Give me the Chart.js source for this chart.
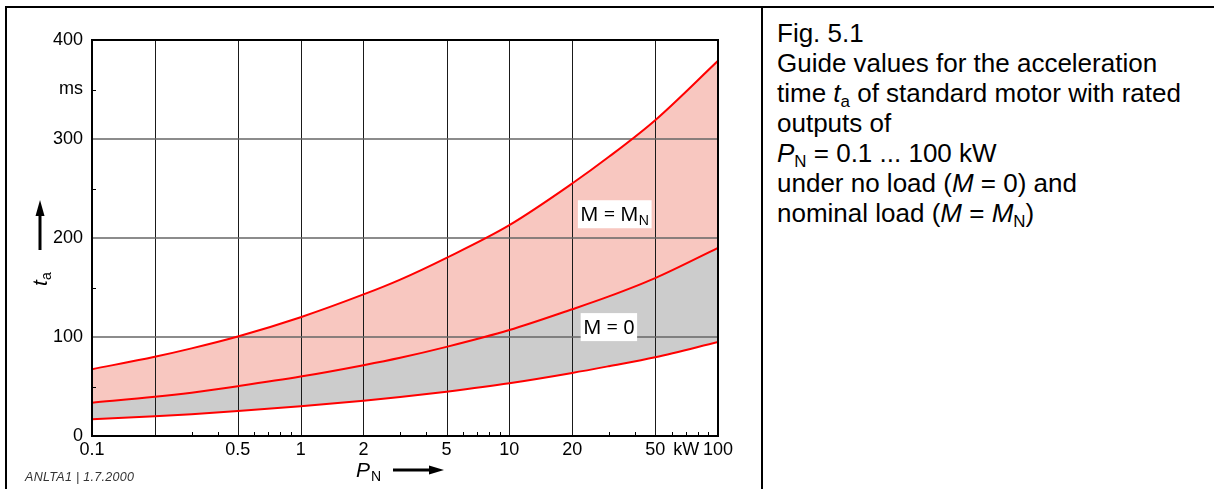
<!DOCTYPE html>
<html><head><meta charset="utf-8">
<script src="https://cdn.jsdelivr.net/npm/chart.js@4"></script>
<style>
html,body{margin:0;padding:0;background:#fff}
body{width:1214px;height:489px;overflow:hidden;position:relative;font-family:"Liberation Sans",Arial,sans-serif}
#wrap{position:absolute;left:0;top:0;width:762px;height:489px}
.fl{position:absolute;background:#000}
#caption{position:absolute;left:777px;top:18px;font-size:26px;line-height:30px;color:#000;white-space:nowrap}
#caption sub{font-size:65%;vertical-align:-0.28em;line-height:0}
#stamp{position:absolute;left:25px;top:470px;font-size:12.5px;font-style:italic;color:#333;letter-spacing:0.3px}
</style></head>
<body>
<div class="fl" style="left:5px;top:6px;width:1209px;height:2px"></div>
<div class="fl" style="left:5px;top:6px;width:2px;height:483px"></div>
<div class="fl" style="left:761px;top:6px;width:2px;height:483px"></div>
<div id="wrap"><canvas id="c" width="762" height="489"></canvas></div>
<div id="caption">Fig. 5.1<br>Guide values for the acceleration<br>time <i>t</i><sub>a</sub> of standard motor with rated<br>outputs of<br><i>P</i><sub>N</sub> = 0.1 ... 100 kW<br>under no load (<i>M</i> = 0) and<br>nominal load (<i>M</i> = <i>M</i><sub>N</sub>)</div>
<div id="stamp">ANLTA1 | 1.7.2000</div>
<script>
// ---- data ----
const powerKW = [0.1, 0.2, 0.3, 0.5, 1, 2, 3, 5, 10, 20, 30, 50, 100];
const taNoLoadLower = [16.9, 19.9, 22.0, 25.2, 30.0, 35.5, 39.3, 44.8, 53.3, 63.7, 70.5, 79.5, 95.0];
const taNoLoadUpper = [33.7, 39.6, 43.8, 50.3, 60.0, 71.5, 79.0, 90.0, 107.0, 128.0, 141.0, 159.5, 190.0];
const taNominalLoad = [67.5, 80.0, 88.5, 100.5, 120.0, 143.0, 158.0, 180.0, 213.0, 255.0, 282.0, 319.0, 379.0];
const xTickValues = [0.1, 0.2, 0.5, 1, 2, 5, 10, 20, 50, 100];
const xTickLabels = ['0.1', '', '0.5', '1', '2', '5', '10', '20', '50', '100'];
const xMinorTicks = [0.3, 0.4, 0.6, 0.7, 0.8, 0.9, 3, 4, 6, 7, 8, 9, 30, 40, 60, 70, 80, 90];
const yTickValues = [0, 50, 100, 150, 200, 250, 300, 350, 400];
const yTickLabels = ['0', '', '100', '', '200', '', '300', 'ms', '400'];
const yMinorTicks = [50, 150, 250, 350];
const yGridValues = [100, 200, 300];
const labelMN = {x: 32, y: 224, text: 'M = M', sub: 'N'};
const labelM0 = {x: 30, y: 110, text: 'M = 0', sub: ''};

const pts = arr => powerKW.map((p, i) => ({x: p, y: arr[i]}));
const PINK = 'rgb(248,199,192)', GRAY = 'rgb(204,204,204)', RED = '#ff0000';
const FONT = '"Liberation Sans", Arial, sans-serif';

const extras = {
  id: 'extras',
  beforeDatasetsDraw(chart) {
    // grid lines drawn over the fills, under the curves
    const ctx = chart.ctx, xs = chart.scales.x, ys = chart.scales.y, a = chart.chartArea;
    ctx.save();
    ctx.strokeStyle = '#1a1a1a'; ctx.lineWidth = 1;
    xTickValues.slice(1, -1).forEach(v => {
      const px = Math.round(xs.getPixelForValue(v)) + 0.5;
      ctx.beginPath(); ctx.moveTo(px, a.top); ctx.lineTo(px, a.bottom); ctx.stroke();
    });
    ctx.strokeStyle = '#666'; ctx.lineWidth = 1.5;
    yGridValues.forEach(v => {
      const py = ys.getPixelForValue(v);
      ctx.beginPath(); ctx.moveTo(a.left, py); ctx.lineTo(a.right, py); ctx.stroke();
    });
    ctx.restore();
  },
  afterDatasetsDraw(chart) {
    const ctx = chart.ctx, xs = chart.scales.x, ys = chart.scales.y, a = chart.chartArea;
    ctx.save();
    // minor ticks (inward)
    ctx.strokeStyle = '#000'; ctx.lineWidth = 1;
    xMinorTicks.forEach(v => {
      const px = Math.round(xs.getPixelForValue(v)) + 0.5;
      ctx.beginPath(); ctx.moveTo(px, a.bottom); ctx.lineTo(px, a.bottom - 4); ctx.stroke();
    });
    yMinorTicks.forEach(v => {
      const py = Math.round(ys.getPixelForValue(v)) + 0.5;
      ctx.beginPath(); ctx.moveTo(a.left, py); ctx.lineTo(a.left + 4, py); ctx.stroke();
    });
    // plot frame
    ctx.lineWidth = 2; ctx.strokeStyle = '#000';
    ctx.strokeRect(a.left, a.top, a.right - a.left, a.bottom - a.top);
    // annotations
    [labelMN, labelM0].forEach(L => {
      const cx = xs.getPixelForValue(L.x), cy = ys.getPixelForValue(L.y);
      ctx.font = '20px "Noto Sans", sans-serif';
      const w1 = ctx.measureText(L.text).width;
      ctx.font = '14px "Noto Sans", sans-serif';
      const w2 = L.sub ? ctx.measureText(L.sub).width : 0;
      const w = w1 + w2 + 5, h = 28;
      ctx.fillStyle = '#fff';
      ctx.fillRect(cx - w / 2, cy - h / 2, w, h);
      ctx.fillStyle = '#000'; ctx.textBaseline = 'alphabetic'; ctx.textAlign = 'left';
      ctx.font = '20px "Noto Sans", sans-serif';
      ctx.fillText(L.text, cx - w / 2 + 2.5, cy + 7);
      if (L.sub) { ctx.font = '14px "Noto Sans", sans-serif'; ctx.fillText(L.sub, cx - w / 2 + 2.5 + w1, cy + 11); }
    });
    // "kW" after 50 (same line as the tick labels)
    ctx.font = '18px ' + FONT; ctx.textAlign = 'left'; ctx.textBaseline = 'alphabetic';
    ctx.fillText('kW', xs.getPixelForValue(50) + 18, a.bottom + 19);
    // x title
    ctx.font = 'italic 21px ' + FONT; ctx.fillText('P', 356, 477);
    ctx.font = '14px ' + FONT; ctx.fillText('N', 371, 481);
    ctx.lineWidth = 3; ctx.beginPath(); ctx.moveTo(393, 470); ctx.lineTo(432, 470); ctx.stroke();
    ctx.beginPath(); ctx.moveTo(444, 470); ctx.lineTo(429, 465.5); ctx.lineTo(429, 474.5); ctx.closePath(); ctx.fill();
    // y title
    ctx.beginPath(); ctx.moveTo(40, 250); ctx.lineTo(40, 213); ctx.stroke();
    ctx.beginPath(); ctx.moveTo(40, 200); ctx.lineTo(35.5, 216); ctx.lineTo(44.5, 216); ctx.closePath(); ctx.fill();
    ctx.translate(47, 286); ctx.rotate(-Math.PI / 2);
    ctx.font = 'italic 21px ' + FONT; ctx.fillText('t', 0, 0);
    ctx.font = '14px ' + FONT; ctx.fillText('a', 6, 4);
    ctx.restore();
  }
};

new Chart(document.getElementById('c'), {
  type: 'line',
  data: {
    datasets: [
      {label: 'lower', data: pts(taNoLoadLower), borderColor: RED, borderWidth: 2, pointRadius: 0, fill: false, cubicInterpolationMode: 'monotone'},
      {label: 'M = 0', data: pts(taNoLoadUpper), borderColor: RED, borderWidth: 2, pointRadius: 0, fill: '-1', backgroundColor: GRAY, cubicInterpolationMode: 'monotone'},
      {label: 'M = MN', data: pts(taNominalLoad), borderColor: RED, borderWidth: 2, pointRadius: 0, fill: '-1', backgroundColor: PINK, cubicInterpolationMode: 'monotone'}
    ]
  },
  options: {
    responsive: false, animation: false, events: [],
    layout: {padding: {left: 0, top: 40, right: 44, bottom: 0}},
    plugins: {legend: {display: false}, tooltip: {enabled: false}, filler: {drawTime: 'beforeDatasetsDraw'}},
    scales: {
      x: {
        type: 'logarithmic', min: 0.1, max: 100,
        afterBuildTicks: s => { s.ticks = xTickValues.map(v => ({value: v})); },
        afterFit: s => { s.height = 53; },
        ticks: {autoSkip: false, maxRotation: 0, padding: 3, color: '#000', font: {family: FONT, size: 18},
          callback: (v, i) => xTickLabels[i]},
        grid: {drawTicks: false, color: 'transparent'},
        border: {display: true, color: '#000', width: 2}
      },
      y: {
        type: 'linear', min: 0, max: 400,
        afterBuildTicks: s => { s.ticks = yTickValues.map(v => ({value: v})); },
        afterFit: s => { s.width = 92; },
        ticks: {autoSkip: false, padding: 9, color: '#000', font: {family: FONT, size: 18},
          callback: (v, i) => yTickLabels[i]},
        grid: {drawTicks: false, color: 'transparent'},
        border: {display: true, color: '#000', width: 2}
      }
    }
  },
  plugins: [extras]
});
</script>
</body></html>
